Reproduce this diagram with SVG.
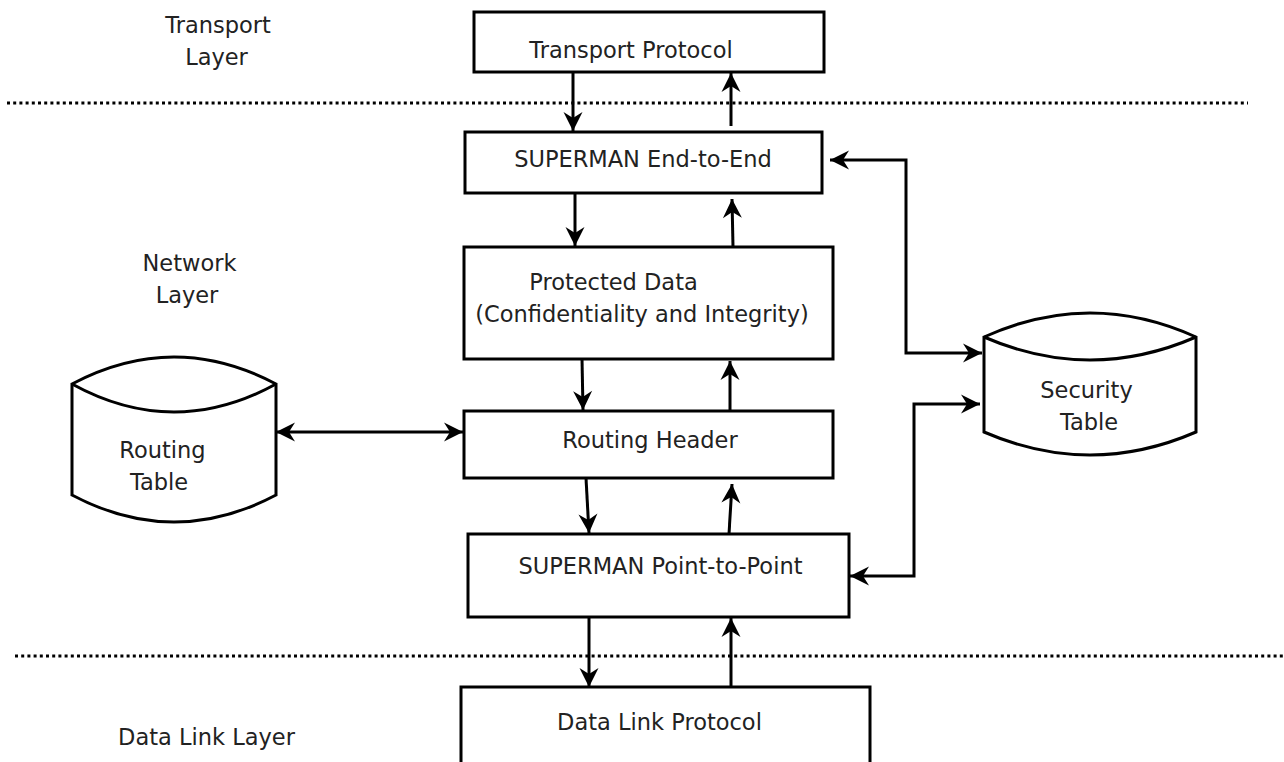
<svg xmlns="http://www.w3.org/2000/svg" width="1284" height="762" viewBox="0 0 1284 762">
<style>
.box{fill:#fff;stroke:#000;stroke-width:3}
.cyl{fill:#fff;stroke:#000;stroke-width:3;stroke-linejoin:miter}
.t{font-family:"DejaVu Sans","Liberation Sans",sans-serif;font-size:22.5px;fill:#222;text-anchor:middle}
.c{fill:none;stroke:#000;stroke-width:3}
.arr{marker-end:url(#ah)}
.bi{marker-start:url(#ah);marker-end:url(#ah)}
.dot{stroke:#000;stroke-width:3;stroke-dasharray:3 3.2}
</style>
<defs>
<marker id="ah" markerUnits="userSpaceOnUse" viewBox="-20 -10 22 20" refX="0" refY="0" markerWidth="22" markerHeight="20" orient="auto-start-reverse">
<path d="M0,0 L-19,-9.5 L-13,0 L-19,9.5 Z" fill="#000"/>
</marker>
</defs>
<rect width="1284" height="762" fill="#fff"/>

<g id="layers">
<line class="dot" x1="7" y1="103" x2="1248" y2="103"/>
<line class="dot" x1="15" y1="656" x2="1284" y2="656"/>
<text class="t" x="218" y="33">Transport</text>
<text class="t" x="216.5" y="65">Layer</text>
<text class="t" x="189.5" y="271">Network</text>
<text class="t" x="187" y="303">Layer</text>
<text class="t" x="206.5" y="745">Data Link Layer</text>
</g>

<g id="connectors">
<line class="c arr" x1="573" y1="72" x2="573" y2="131"/>
<line class="c arr" x1="731" y1="126" x2="731" y2="73"/>
<line class="c arr" x1="575" y1="193" x2="575" y2="246"/>
<line class="c arr" x1="733" y1="247" x2="732" y2="199"/>
<line class="c arr" x1="582" y1="359" x2="583" y2="410"/>
<line class="c arr" x1="730" y1="411" x2="730" y2="361"/>
<line class="c arr" x1="586" y1="478" x2="589" y2="533"/>
<line class="c arr" x1="729" y1="534" x2="732" y2="484"/>
<line class="c arr" x1="589" y1="617" x2="589" y2="687"/>
<line class="c arr" x1="731" y1="687" x2="731" y2="618"/>
<line class="c bi" x1="276" y1="432" x2="463" y2="432"/>
<path class="c bi" d="M830,160 H906 V353 H982"/>
<path class="c bi" d="M850,576 H914 V404 H980"/>
</g>

<g id="transport-protocol">
<rect class="box" x="474" y="12" width="350" height="60"/>
<text class="t" x="631" y="58">Transport Protocol</text>
</g>

<g id="superman-e2e">
<rect class="box" x="465" y="132" width="357" height="61"/>
<text class="t" x="643" y="167">SUPERMAN End-to-End</text>
</g>

<g id="protected-data">
<rect class="box" x="464" y="247" width="369" height="112"/>
<text class="t" x="613.5" y="290">Protected Data</text>
<text class="t" x="642" y="322">(Confidentiality and Integrity)</text>
</g>

<g id="routing-header">
<rect class="box" x="464" y="411" width="369" height="67"/>
<text class="t" x="650" y="448">Routing Header</text>
</g>

<g id="superman-p2p">
<rect class="box" x="468" y="534" width="381" height="83"/>
<text class="t" x="660.5" y="574">SUPERMAN Point-to-Point</text>
</g>

<g id="data-link-protocol">
<rect class="box" x="461" y="687" width="409" height="110"/>
<text class="t" x="659.5" y="730">Data Link Protocol</text>
</g>

<g id="routing-table">
<path class="cyl" d="M72,384 Q174,330 276,384 V495 Q174,549 72,495 Z"/>
<path class="cyl" d="M72,384 Q174,440 276,384" fill="none"/>
<text class="t" x="162.5" y="458">Routing</text>
<text class="t" x="159" y="490">Table</text>
</g>

<g id="security-table">
<path class="cyl" d="M984,337 Q1090,289 1196,337 V432 Q1090,478 984,432 Z"/>
<path class="cyl" d="M984,337 Q1090,383 1196,337" fill="none"/>
<text class="t" x="1086.5" y="398">Security</text>
<text class="t" x="1089" y="430">Table</text>
</g>
</svg>
